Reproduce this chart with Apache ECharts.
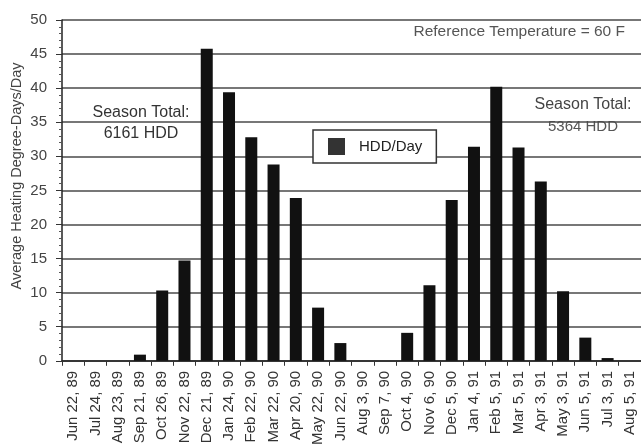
<!DOCTYPE html>
<html>
<head>
<meta charset="utf-8">
<script src="https://cdn.jsdelivr.net/npm/echarts@6/dist/echarts.min.js"></script>
<style>
html,body{margin:0;padding:0;background:#fff;}
#chart{width:641px;height:448px;}
</style>
</head>
<body>
<div id="chart"></div>
<script>
const categories = ['Jun 22, 89','Jul 24, 89','Aug 23, 89','Sep 21, 89','Oct 26, 89','Nov 22, 89','Dec 21, 89','Jan 24, 90','Feb 22, 90','Mar 22, 90','Apr 20, 90','May 22, 90','Jun 22, 90','Aug 3, 90','Sep 7, 90','Oct 4, 90','Nov 6, 90','Dec 5, 90','Jan 4, 91','Feb 5, 91','Mar 5, 91','Apr 3, 91','May 3, 91','Jun 5, 91','Jul 3, 91','Aug 5, 91'];
const hddPerDay = [0,0,0,0.9,10.3,14.7,45.8,39.4,32.8,28.8,23.9,7.8,2.6,0,0,4.1,11.1,23.6,31.4,40.2,31.3,26.3,10.2,3.4,0.4,0];
const seriesName = 'HDD/Day';
const yAxisTitle = 'Average Heating Degree-Days/Day';
const season1Text = ['Season Total:', '6161 HDD'];
const season2Text = ['Season Total:', '5364 HDD'];
const refTempText = 'Reference Temperature = 60 F';

const FONT = '"Liberation Sans", Arial, Helvetica, sans-serif';
const chart = echarts.init(document.getElementById('chart'));
chart.setOption({
  animation: false,
  backgroundColor: '#fff',
  textStyle: { fontFamily: FONT },
  grid: { left: 62, top: 20, width: 585, height: 341, containLabel: false },
  legend: {
    data: [seriesName],
    left: 313, top: 130,
    orient: 'horizontal',
    icon: 'rect',
    itemWidth: 17, itemHeight: 17,
    padding: [8, 14, 8, 15],
    borderColor: '#333', borderWidth: 1.5,
    backgroundColor: '#fff',
    itemStyle: { color: '#333' },
    textStyle: { fontSize: 15, color: '#222', fontFamily: FONT, padding: [0, 0, 0, 9] }
  },
  xAxis: {
    type: 'category',
    data: categories,
    boundaryGap: true,
    axisLine: { lineStyle: { color: '#222', width: 1.5 } },
    axisTick: { show: true, length: 5, alignWithLabel: false, lineStyle: { color: '#333' } },
    axisLabel: { rotate: 90, interval: 0, fontSize: 15, color: '#333', margin: 10, fontFamily: FONT },
    splitLine: { show: false }
  },
  yAxis: {
    type: 'value',
    min: 0, max: 50, interval: 5,
    axisLine: { show: true, lineStyle: { color: '#222', width: 1.5 } },
    axisTick: { show: true, length: 6, lineStyle: { color: '#333' } },
    minorTick: { show: true, splitNumber: 5, length: 3, lineStyle: { color: '#555' } },
    axisLabel: { fontSize: 15, color: '#444', margin: 15, fontFamily: FONT },
    splitLine: { show: true, lineStyle: { color: '#4a4a4a', width: 1.5 } }
  },
  series: [{
    name: seriesName,
    type: 'bar',
    data: hddPerDay,
    barWidth: 12,
    itemStyle: { color: '#111' }
  }],
  graphic: [
    { type: 'text', x: 17, y: 176, rotation: Math.PI / 2,
      style: { text: yAxisTitle, font: '14.5px ' + FONT, fill: '#444', textAlign: 'center', textVerticalAlign: 'middle' } },
    { type: 'text', x: 141, y: 113,
      style: { text: season1Text[0], font: '16px ' + FONT, fill: '#333', textAlign: 'center', textVerticalAlign: 'middle', backgroundColor: '#fff' } },
    { type: 'text', x: 141, y: 134,
      style: { text: season1Text[1], font: '16px ' + FONT, fill: '#333', textAlign: 'center', textVerticalAlign: 'middle', backgroundColor: '#fff' } },
    { type: 'text', x: 583, y: 105,
      style: { text: season2Text[0], font: '16px ' + FONT, fill: '#444', textAlign: 'center', textVerticalAlign: 'middle', backgroundColor: '#fff' } },
    { type: 'text', x: 583, y: 127,
      style: { text: season2Text[1], font: '15px ' + FONT, fill: '#555', textAlign: 'center', textVerticalAlign: 'middle', backgroundColor: '#fff' } },
    { type: 'text', x: 625, y: 32,
      style: { text: refTempText, font: '15.5px ' + FONT, fill: '#555', textAlign: 'right', textVerticalAlign: 'middle', backgroundColor: '#fff' } }
  ]
});
</script>
</body>
</html>
